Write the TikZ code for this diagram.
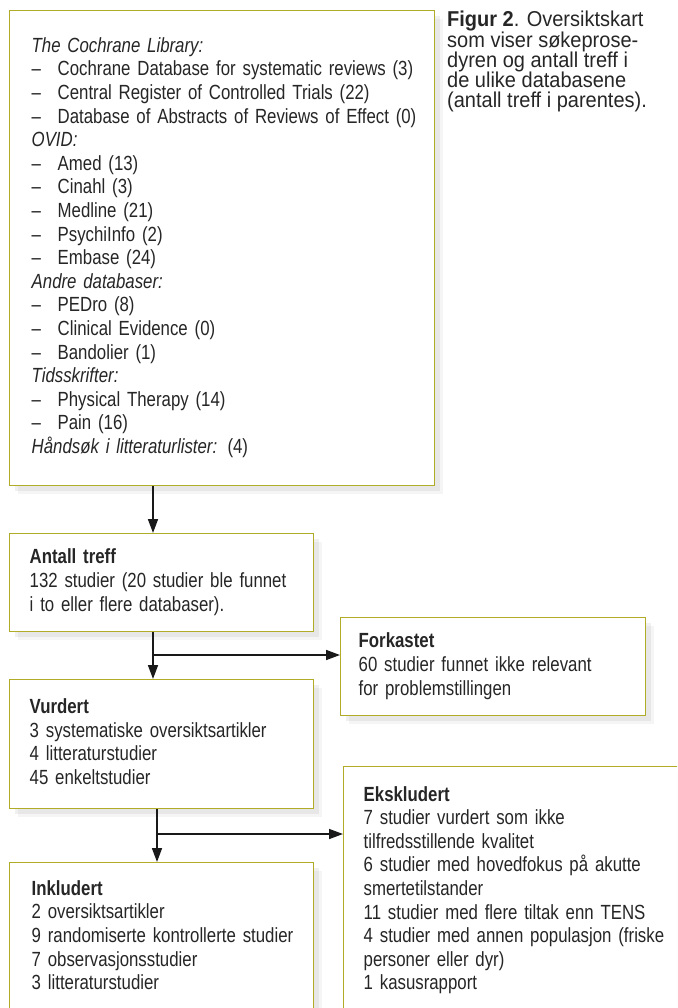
\documentclass[tikz,border=0pt]{standalone}
\usepackage{fontspec}
\setmainfont{Liberation Sans}[FakeStretch=0.82]
\newfontfamily\capfont{Liberation Sans}[FakeStretch=0.93]
\usetikzlibrary{arrows.meta,shadows}
\definecolor{boxline}{RGB}{176,172,40}
\definecolor{txt}{RGB}{38,38,38}
\newcommand{\dbitem}[1]{\makebox[26pt][l]{–}#1}
\tikzset{
  flowbox/.style={draw=boxline, line width=1.4pt, fill=white, anchor=north west,
    align=left, inner xsep=20pt, inner ysep=0pt, text=txt,
    font=\fontsize{20.5}{23.6}\selectfont,
    drop shadow={shadow xshift=8pt, shadow yshift=-8pt, opacity=0.04, fill=black},
    drop shadow={shadow xshift=5pt, shadow yshift=-5pt, opacity=0.06, fill=black}},
  flowarrow/.style={line width=1.6pt, draw=black!90, -{Triangle[length=14pt,width=10pt]}},
}
\begin{document}
\begin{tikzpicture}[x=1pt,y=-1pt]
  \useasboundingbox (0,0) rectangle (677,1008);
  \clip (0,0) rectangle (677,1008);
  % --- searched databases ---
  \node[flowbox, inner xsep=22pt, text width=381pt, minimum height=475pt] (lib) at (9,10)
    {\begin{tabular}{@{}l@{}}
     \textit{The Cochrane Library:}\\
     \dbitem{Cochrane Database for systematic reviews (3)}\\
     \dbitem{Central Register of Controlled Trials (22)}\\
     \dbitem{Database of Abstracts of Reviews of Effect (0)}\\
     \textit{OVID:}\\
     \dbitem{Amed (13)}\\
     \dbitem{Cinahl (3)}\\
     \dbitem{Medline (21)}\\
     \dbitem{PsychiInfo (2)}\\
     \dbitem{Embase (24)}\\
     \textit{Andre databaser:}\\
     \dbitem{PEDro (8)}\\
     \dbitem{Clinical Evidence (0)}\\
     \dbitem{Bandolier (1)}\\
     \textit{Tidsskrifter:}\\
     \dbitem{Physical Therapy (14)}\\
     \dbitem{Pain (16)}\\
     \textit{Håndsøk i litteraturlister:} (4)
     \end{tabular}};
  % --- caption ---
  \node[anchor=north west, align=left, inner sep=0pt, text=txt,
        font=\capfont\fontsize{21.5}{20.3}\selectfont] (cap) at (447,11)
    {\textbf{Figur 2}. Oversiktskart\\
     som viser søkeprose-\\
     dyren og antall treff i\\
     de ulike databasene\\
     (antall treff i parentes).};
  % --- flow boxes ---
  \node[flowbox, text width=264pt, minimum height=98pt] (ant) at (9,533)
    {\begin{tabular}{@{}l@{}}
     \textbf{Antall treff}\\
     132 studier (20 studier ble funnet\\
     i to eller flere databaser).
     \end{tabular}};
  \node[flowbox, inner xsep=18pt, text width=269pt, minimum height=98pt] (fork) at (340,617)
    {\begin{tabular}{@{}l@{}}
     \textbf{Forkastet}\\
     60 studier funnet ikke relevant\\
     for problemstillingen
     \end{tabular}};
  \node[flowbox, text width=264pt, minimum height=129pt] (vur) at (9,679)
    {\begin{tabular}{@{}l@{}}
     \textbf{Vurdert}\\
     3 systematiske oversiktsartikler\\
     4 litteraturstudier\\
     45 enkeltstudier
     \end{tabular}};
  \node[flowbox, text width=324pt, minimum height=248pt] (eks) at (343,766)
    {\begin{tabular}{@{}l@{}}
     \textbf{Ekskludert}\\
     7 studier vurdert som ikke\\
     tilfredsstillende kvalitet\\
     6 studier med hovedfokus på akutte\\
     smertetilstander\\
     11 studier med flere tiltak enn TENS\\
     4 studier med annen populasjon (friske\\
     personer eller dyr)\\
     1 kasusrapport
     \end{tabular}};
  \node[flowbox, inner xsep=22pt, text width=260pt, minimum height=150pt] (ink) at (9,862)
    {\begin{tabular}{@{}l@{}}
     \textbf{Inkludert}\\
     2 oversiktsartikler\\
     9 randomiserte kontrollerte studier\\
     7 observasjonsstudier\\
     3 litteraturstudier
     \end{tabular}};
  % --- connectors ---
  \coordinate (s1) at (153,0);
  \coordinate (s2) at (157,0);
  \coordinate (j1) at (153,655);
  \coordinate (j2) at (157,834);
  \draw[flowarrow] (lib.south -| s1) -- (ant.north -| s1);
  \draw[flowarrow] (ant.south -| s1) -- (vur.north -| s1);
  \draw[flowarrow] (j1) -- (j1 -| fork.west);
  \draw[flowarrow] (vur.south -| s2) -- (ink.north -| s2);
  \draw[flowarrow] (j2) -- (j2 -| eks.west);
\end{tikzpicture}
\end{document}
